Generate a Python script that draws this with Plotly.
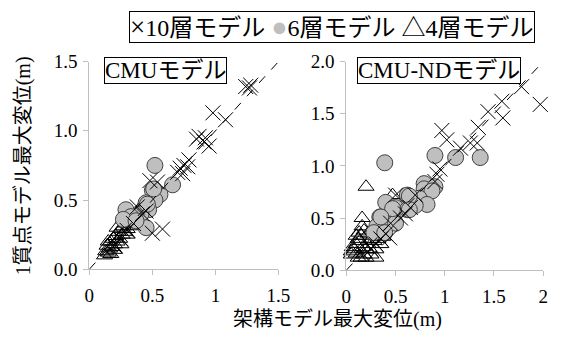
import plotly.graph_objects as go

# ---- data: CMU model (left panel) ----
cmu_x10_x = [1.24, 1.27, 1.28, 0.98, 1.08, 0.87, 0.91, 0.95, 0.92, 0.85, 0.79, 0.75, 0.72, 0.70, 0.74, 0.78,
             0.50, 0.58, 0.54, 0.48, 0.35, 0.42, 0.30, 0.25, 0.20, 0.38, 0.45]
cmu_x10_y = [1.32, 1.31, 1.33, 1.13, 1.08, 0.96, 0.92, 0.89, 0.95, 0.94, 0.79, 0.75, 0.73, 0.70, 0.69, 0.74,
             0.26, 0.29, 0.63, 0.64, 0.33, 0.40, 0.28, 0.22, 0.17, 0.45, 0.42]
cmu_x6_x = [0.52, 0.66, 0.50, 0.56, 0.52, 0.45, 0.29, 0.47, 0.41, 0.33, 0.45, 0.27, 0.37, 0.51, 0.46]
cmu_x6_y = [0.75, 0.61, 0.57, 0.54, 0.50, 0.48, 0.43, 0.43, 0.40, 0.38, 0.30, 0.36, 0.35, 0.58, 0.47]
cmu_x4_x = [0.12, 0.13, 0.15, 0.16, 0.14, 0.18, 0.17, 0.20, 0.19, 0.22, 0.21, 0.24, 0.23, 0.26, 0.25, 0.28,
            0.27, 0.30, 0.29, 0.32, 0.31, 0.34, 0.35, 0.37, 0.33, 0.38, 0.15, 0.20, 0.25, 0.30, 0.22, 0.27,
            0.17, 0.40]
cmu_x4_y = [0.10, 0.13, 0.12, 0.15, 0.17, 0.16, 0.20, 0.18, 0.22, 0.20, 0.24, 0.22, 0.27, 0.25, 0.29, 0.27,
            0.31, 0.29, 0.33, 0.31, 0.35, 0.33, 0.37, 0.35, 0.40, 0.41, 0.20, 0.14, 0.18, 0.25, 0.30, 0.36,
            0.11, 0.44]

# ---- data: CMU-ND model (right panel) ----
nd_x10_x = [1.78, 1.97, 1.58, 1.44, 1.59, 1.34, 1.33, 0.97, 1.02, 1.16, 1.26, 0.95, 0.92, 0.90,
            0.50, 0.60, 0.44, 0.35, 0.40, 0.30, 0.25, 0.45, 0.55, 0.65, 0.70]
nd_x10_y = [1.76, 1.59, 1.62, 1.52, 1.46, 1.37, 1.22, 1.34, 1.25, 1.17, 1.22, 0.97, 0.92, 0.85,
            0.72, 0.54, 0.31, 0.30, 0.35, 0.25, 0.20, 0.45, 0.50, 0.60, 0.72]
nd_x6_x = [0.39, 0.90, 1.11, 1.36, 0.79, 0.79, 0.90, 0.87, 0.62, 0.74, 0.82, 0.40, 0.50, 0.62, 0.70,
           0.34, 0.47, 0.42, 0.31, 0.50, 0.28, 0.39, 0.64, 0.64, 0.47, 0.35]
nd_x6_y = [1.03, 1.10, 1.08, 1.08, 0.83, 0.78, 0.80, 0.76, 0.72, 0.69, 0.63, 0.65, 0.60, 0.58, 0.62,
           0.51, 0.50, 0.44, 0.42, 0.45, 0.36, 0.36, 0.71, 0.58, 0.59, 0.51]
nd_x4_x = [0.20, 0.16, 0.47, 0.13, 0.10, 0.06, 0.05, 0.05, 0.08, 0.10, 0.12, 0.15, 0.15, 0.18, 0.20,
           0.22, 0.25, 0.28, 0.30, 0.12, 0.20, 0.25, 0.30, 0.35, 0.18, 0.22, 0.27, 0.32, 0.10, 0.17,
           0.24, 0.14, 0.30, 0.16, 0.37]
nd_x4_y = [0.80, 0.50, 0.72, 0.36, 0.33, 0.22, 0.18, 0.15, 0.20, 0.25, 0.30, 0.33, 0.12, 0.15, 0.20,
           0.25, 0.30, 0.28, 0.35, 0.12, 0.12, 0.15, 0.20, 0.25, 0.38, 0.35, 0.40, 0.30, 0.16, 0.22,
           0.20, 0.28, 0.12, 0.42, 0.32]

left_max = 1.5
right_max = 2.0
left_ticks = [0, 0.5, 1, 1.5]
right_ticks = [0, 0.5, 1, 1.5, 2]

FONT = "Liberation Serif, Noto Sans CJK JP, serif"
AX = "#bfbfbf"

tri = dict(symbol="triangle-up-open", size=14, color="black", line=dict(width=1, color="black"))
cir = dict(symbol="circle", size=16, color="#bfbfbf", line=dict(width=1, color="#404040"))
crs = dict(symbol="x-thin-open", size=15, color="black", line=dict(width=1, color="black"))

fig = go.Figure()
for xa, ya, data in [
    ("x", "y", [(cmu_x4_x, cmu_x4_y, tri, "4層モデル"), (cmu_x6_x, cmu_x6_y, cir, "6層モデル"),
                (cmu_x10_x, cmu_x10_y, crs, "10層モデル")]),
    ("x2", "y2", [(nd_x4_x, nd_x4_y, tri, "4層モデル"), (nd_x6_x, nd_x6_y, cir, "6層モデル"),
                  (nd_x10_x, nd_x10_y, crs, "10層モデル")]),
]:
    for xs, ys, mk, nm in data:
        fig.add_trace(go.Scatter(x=xs, y=ys, mode="markers", marker=mk, name=nm,
                                 xaxis=xa, yaxis=ya, showlegend=False, cliponaxis=False))

# y = x reference lines
fig.add_shape(type="line", xref="x", yref="y", x0=0, y0=0, x1=left_max, y1=left_max,
              line=dict(color="black", width=1, dash="dash"))
fig.add_shape(type="line", xref="x2", yref="y2", x0=0, y0=0, x1=right_max, y1=right_max,
              line=dict(color="black", width=1, dash="dash"))

W, H = 562, 345
axis_common = dict(showgrid=False, zeroline=False, showline=True, linecolor=AX, linewidth=1,
                   ticks="outside", tickcolor=AX, ticklen=5,
                   tickfont=dict(family=FONT, size=19, color="black"))

fig.update_layout(
    width=W, height=H, margin=dict(l=0, r=0, t=0, b=0),
    paper_bgcolor="white", plot_bgcolor="white",
    font=dict(family=FONT, color="black"),
    xaxis=dict(domain=[87 / W, 282 / W], range=[0, left_max], tickvals=left_ticks,
               ticktext=["0", "0.5", "1", "1.5"], anchor="y", ticklabelstandoff=4, **axis_common),
    yaxis=dict(domain=[(H - 276) / H, (H - 55) / H], range=[0, left_max], tickvals=left_ticks,
               tickformat=".1f", anchor="x", ticklabelstandoff=2, **axis_common),
    xaxis2=dict(domain=[352 / W, 555 / W], range=[0, right_max], tickvals=right_ticks,
                ticktext=["0", "0.5", "1", "1.5", "2"], anchor="y2", ticklabelstandoff=4, **axis_common),
    yaxis2=dict(domain=[(H - 277) / H, (H - 55) / H], range=[0, right_max], tickvals=right_ticks,
                tickformat=".1f", anchor="x2", ticklabelstandoff=2, **axis_common),
)

legend_text = ("<span style='font-size:27px'>×</span>10層モデル&nbsp;"
               "<span style='font-size:27px;color:#bfbfbf'>●</span>6層モデル&nbsp;"
               "△4層モデル")
ann = [
    dict(text=legend_text, x=337 / W, y=1 - 18 / H, size=24),
    dict(text="CMUモデル", x=166 / W, y=1 - 64.5 / H, size=23),
    dict(text="CMU-NDモデル", x=448 / W, y=1 - 64.5 / H, size=23),
]
for a in ann:
    fig.add_annotation(xref="paper", yref="paper", xanchor="center", yanchor="middle", showarrow=False,
                       bordercolor="black", borderwidth=1, borderpad=0, bgcolor="white",
                       font=dict(family=FONT, color="black", size=a["size"]),
                       text=a["text"], x=a["x"], y=a["y"])

fig.add_annotation(xref="paper", yref="paper", x=19 / W, y=1 - 166 / H, text="1質点モデル最大変位(m)",
                   textangle=-90, showarrow=False, font=dict(family=FONT, size=20, color="black"),
                   xanchor="center", yanchor="middle")
fig.add_annotation(xref="paper", yref="paper", x=343 / W, y=1 - 330 / H, text="架構モデル最大変位(m)",
                   showarrow=False, font=dict(family=FONT, size=20, color="black"),
                   xanchor="center", yanchor="middle")

fig.write_html("out.html")
